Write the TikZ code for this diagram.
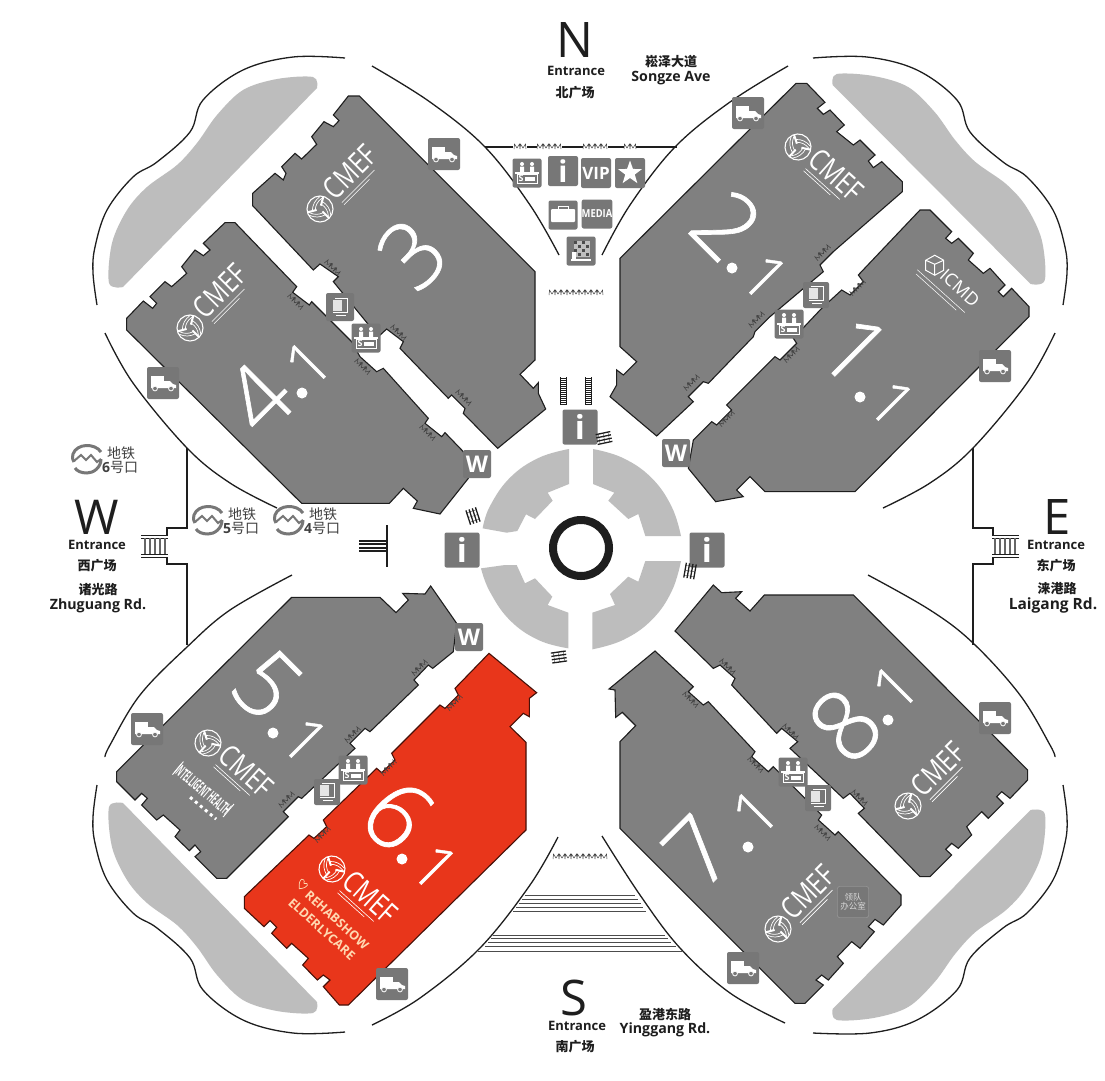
\documentclass[tikz,border=0pt]{standalone}
\usepackage{fontspec}
\usepackage{graphicx}
\usetikzlibrary{shapes.geometric}
\setmainfont{Open Sans}
\newfontfamily\lightf{Open Sans Light}
\newfontfamily\numf[FakeBold=0.7]{Open Sans Light}
\newfontfamily\cjk{Noto Sans CJK SC}
\definecolor{hallgray}{HTML}{808080}
\definecolor{boxgray}{HTML}{777777}
\definecolor{roofgray}{HTML}{BDBDBD}
\definecolor{hallred}{HTML}{E8361B}
\definecolor{inkdark}{HTML}{1E1E1E}
\tikzset{
  hall/.style={draw=inkdark,line width=1.1pt,fill=hallgray,line join=miter},
  redhall/.style={draw=black!70!hallred,line width=1.1pt,fill=hallred},
  road/.style={draw=inkdark,line width=1.3pt},
  wall/.style={draw=inkdark,line width=1.1pt},
  roof/.style={fill=roofgray},
  ibox/.style={fill=boxgray,rounded corners=2pt,inner sep=0pt,text=white,font=\bfseries},
  lbl/.style={inner sep=0pt,text=inkdark,font=\bfseries\fontsize{13}{14}\selectfont,align=center},
  rlbl/.style={inner sep=0pt,text=inkdark,font=\bfseries\fontsize{14.2}{15}\selectfont,align=center},
  clbl/.style={inner sep=0pt,text=inkdark,font=\cjk\bfseries\fontsize{13}{14}\selectfont,align=center},
  bigl/.style={inner sep=0pt,text=inkdark},
  digit/.style={inner sep=0pt,text=white,transform shape},
  logot/.style={inner sep=0pt,text=white,transform shape},
  zg/.style={draw=inkdark!85,line width=.5pt},
}
\newcommand{\ibx}[5]{\node[ibox,minimum size=#4pt] (#1) at (#2,#3) {#5};}
\newcommand{\dgt}[6]{\begin{scope}[shift={(#2,#3)},rotate=#4]\node[digit,font=\numf\fontsize{#5}{#5}\selectfont] (#1) at (0,0) {#6};\end{scope}}
\newcommand{\dott}[2]{\fill[white] (#1,#2) circle (5.5);}
\newcommand{\trk}[3]{\ibx{#1}{#2}{#3}{32}{}
  \begin{scope}[shift={(#2,#3)}]
  \fill[white] (-12,-7) rectangle (1,3);
  \fill[white] (1,-2) -- (7,-2) -- (10,1) -- (13,2) -- (13,5) -- (-12,5) -- (-12,3) -- (1,3) -- cycle;
  \draw[white,fill=boxgray,line width=.8pt] (-8,5.5) circle (2.4);
  \draw[white,fill=boxgray,line width=.8pt] (8,5.5) circle (2.4);
  \end{scope}}
\newcommand{\srv}[3]{\ibx{#1}{#2}{#3}{29}{}
  \begin{scope}[shift={(#2,#3)}]
  \fill[white] (-5,-9) circle (2) (5,-9) circle (2);
  \fill[white] (-7,-6.5) rectangle (-3,-1) (3,-6.5) rectangle (7,-1);
  \draw[white,line width=1.2pt] (-12,0) -- (12,0);
  \draw[white,line width=.7pt] (-10,1) rectangle (10,10);
  \fill[white] (-2,3.5) rectangle (8,8);
  \node[inner sep=0pt,text=white,font=\bfseries\fontsize{9}{9}\selectfont] (#1s) at (-6,5.5) {S};
  \end{scope}}
\newcommand{\bkk}[4]{\ibx{#1}{#2}{#3}{#4}{}
  \begin{scope}[shift={(#2,#3)}]
  \fill[white!90!black] (-7,-7) rectangle (2,4);
  \draw[white,line width=.5pt] (-5,-9) -- (7,-9) -- (7,5) -- (-7,5);
  \draw[white,line width=.5pt] (-4,8) -- (6,8);
  \end{scope}}
\newcommand{\zigz}[4]{\begin{scope}[shift={(#1,#2)},rotate=#3]
  \draw[zg,shift={(-#4*3,2)}] (0,0) foreach \i in {1,...,#4} { -- ++(.5,-5) -- ++(2.5,4) -- ++(2.5,-4) -- ++(.5,5)};
  \end{scope}}
\newcommand{\ballpic}{
  \draw[white,line width=1.1pt] (0,0) circle (13);
  \foreach \a in {90,210,330} {
    \draw[white,line width=2pt] (\a:3.5) -- (\a:13);
    \draw[white,line width=.7pt] (\a:5) to[bend left=25] (\a+115:11);
    \draw[white,line width=.7pt] (\a:8) to[bend left=25] (\a+105:12.5);
  }}
\newcommand{\cmef}[4]{\begin{scope}[shift={(#2,#3)},rotate=#4]
  \ballpic
  \node[logot,font=\fontsize{30}{30}\selectfont] (#1) at (47,-5) {\scalebox{.78}[1]{CMEF}};
  \draw[white,line width=.6pt] (20,11) -- (66,11) (20,14) -- (56,14);
  \end{scope}}
\newcommand{\metro}[6]{\begin{scope}[shift={(#2,#3)}]
  \draw[boxgray,line width=3pt] (14,-7) .. controls (8,-16) and (-10,-16) .. (-14,-5) .. controls (-15,-1) and (-14,2) .. (-13,3);
  \draw[boxgray,line width=3pt] (14,0) .. controls (14,9) and (6,14) .. (0,14) .. controls (-6,14) and (-10,12) .. (-12,9);
  \draw[boxgray,line width=2pt] (-13,2) -- (-6,-4) -- (-1,1) -- (4,-4) -- (10,3) -- (14,0);
  \end{scope}
  \node[inner sep=0pt,text=black!75,font=\cjk\fontsize{14}{15}\selectfont] (#1a) at (#4,#5) {地铁};
  \node[inner sep=0pt,text=black!75,font=\fontsize{14}{15}\selectfont,anchor=west] (#1b) at (#4-19,#5+14) {{\bfseries #6}{\cjk 号口}};}
\newcommand{\ladr}[2]{\begin{scope}[shift={(#1,#2)}]
  \draw[inkdark,line width=.8pt] (-3,-14) -- (-3,14) (3,-14) -- (3,14);
  \foreach \v in {-13,-11,...,13} \draw[inkdark,line width=.7pt] (-3,\v) -- (3,\v);
  \end{scope}}
\newcommand{\strp}[3]{\begin{scope}[shift={(#1,#2)},rotate=#3]
  \foreach \v in {-5,-1.7,1.7,5} \draw[inkdark,line width=1.3pt] (-7.5,\v) -- (7.5,\v);
  \draw[inkdark,line width=.3pt] (-5,-5) -- (-5,5) (0,-5) -- (0,5) (5,-5) -- (5,5);
  \end{scope}}
\newcommand{\roofshape}{\fill[roof] plot[smooth,tension=.55] coordinates {(123,287) (109,283) (112,243) (127,210) (147,187) (177,165) (197,143) (217,115) (243,90) (277,79) (313,77) (317,88)} -- cycle;}
\newcommand{\westgate}{
  \draw[wall] (187,448) -- (187,528) -- (167,528) -- (167,535);
  \draw[wall] (167,558) -- (167,564) -- (187,564) -- (187,645);
  \draw[inkdark,line width=.9pt] (141,535) -- (168,535) (141,538) -- (168,538) (141,554) -- (168,554) (141,557) -- (168,557);
  \foreach \v in {145,150,155,160,165} \draw[black!60,line width=2pt] (\v,538) -- (\v,554);
}
\begin{document}
\begin{tikzpicture}[x=1pt,y=-1pt]
\useasboundingbox (0,0) rectangle (1105,1080);
\fill[white] (0,0) rectangle (1105,1080);
% roofs
\roofshape
\begin{scope}[shift={(1156,-3)},xscale=-1.02]\roofshape\end{scope}
\begin{scope}[shift={(0,1090)},yscale=-1]\roofshape\end{scope}
\begin{scope}[shift={(1156,1097)},xscale=-1.02,yscale=-1]\roofshape\end{scope}
% outer roads
\draw[road] plot[smooth,tension=.6] coordinates {(559,255) (530,205) (485,147) (430,102) (372,66)};
\draw[road] plot[smooth,tension=.6] coordinates {(345,58) (293,57) (243,70) (203,100) (190,132) (157,162) (133,177) (107,210) (95,247) (93,273) (97,305)};
\draw[road] plot[smooth,tension=.6] coordinates {(105,333) (133,383) (187,448) (230,483) (277,508)};
\draw[road] plot[smooth,tension=.6] coordinates {(292,575) (230,610) (187,647) (140,695) (110,745) (105,757)};
\draw[road] plot[smooth,tension=.6] coordinates {(97,785) (93,817) (95,843) (107,880) (133,913) (157,928) (190,958) (203,990) (243,1020) (293,1033) (345,1032)};
\draw[road] plot[smooth,tension=.6] coordinates {(372,1025) (420,998) (480,948) (530,885) (558,837)};
\draw[road] plot[smooth,tension=.6] coordinates {(602,836) (640,895) (680,948) (730,993) (785,1023)};
\draw[road] plot[smooth,tension=.6] coordinates {(813,1033) (870,1033) (917,1020) (957,990) (970,958) (1003,928) (1027,913) (1053,880) (1065,843) (1067,817) (1063,785)};
\draw[road] plot[smooth,tension=.6] coordinates {(868,575) (930,610) (973,643) (1020,695) (1050,745) (1055,757)};
\draw[road] plot[smooth,tension=.6] coordinates {(1055,333) (1027,383) (973,448) (930,483) (883,508)};
\draw[road] plot[smooth,tension=.6] coordinates {(1063,305) (1067,273) (1065,247) (1053,210) (1027,177) (1003,162) (970,132) (957,100) (917,70) (867,57) (813,58)};
\draw[road] plot[smooth,tension=.6] coordinates {(788,66) (730,102) (675,147) (630,205) (602,255)};
% gates
\westgate
\begin{scope}[shift={(1160,0)},xscale=-1]\westgate\end{scope}
% north plaza line
\draw[wall] (485,147) -- (513,147) (527,147) -- (537,147) (562,147) -- (583,147) (608,147) -- (624,147) (636,147) -- (677,147);
\zigz{520}{147}{0}{2}\zigz{549}{147}{0}{4}\zigz{595}{147}{0}{4}\zigz{630}{147}{0}{2}
\zigz{576}{293}{0}{9}\zigz{580}{857}{0}{9}
% south steps
\foreach \yy/\xa/\xb in {895/525/635,899/522/638,903/519/641,907/516/643,911/513/646,935/493/665,938/491/668,942/488/671,946/485/676,951/478/682}
  \draw[black!70,line width=.7pt] (\xa,\yy) -- (\xb,\yy);
% centre quadrants
\begin{scope}[shift={(420,370)},scale=0.33333]
\fill[roof] plot[smooth,tension=.7] coordinates {(447,237) (355,264) (269,324) (209,410) (188,475)} -- (260,488) -- (292,483) -- (318,433) -- (345,447) -- (398,392) -- (383,368) -- (447,342) -- cycle;
\fill[roof] plot[smooth,tension=.7] coordinates {(519,237) (609,264) (695,324) (755,410) (783,498)} -- (676,498) -- (655,432) -- (625,447) -- (565,392) -- (583,368) -- (519,342) -- cycle;
\fill[roof] plot[smooth,tension=.7] coordinates {(783,573) (755,664) (695,750) (609,810) (517,838)} -- (517,728) -- (585,705) -- (570,672) -- (625,620) -- (655,635) -- (676,573) -- cycle;
\fill[roof] plot[smooth,tension=.7] coordinates {(445,835) (355,810) (269,750) (209,664) (183,595)} -- (255,585) -- (290,585) -- (315,640) -- (345,625) -- (397,680) -- (383,705) -- (445,728) -- cycle;
\end{scope}
\draw[inkdark,line width=8pt] (581,548) circle (28);
% halls
\begin{scope}[shift={(120,85)},scale=0.33333]
\draw[hall] (685,33) -- (718,33) -- (1245,560) -- (1245,825) -- (1200,868) -- (1240,910) -- (1255,893) -- (1255,925) -- (1277,972) -- (1133,1090) -- (1030,985) -- (1035,970) -- (995,930) -- (985,940) -- (840,790) -- (850,770) -- (800,732) -- (775,755) -- (640,590) -- (655,575) -- (600,537) -- (580,555) -- (398,362) -- (398,325) -- (465,265) -- (490,285) -- (498,265) -- (485,245) -- (525,205) -- (545,222) -- (590,178) -- (575,155) -- (612,110) -- (640,125) -- (657,107) -- (640,90) -- cycle;
\draw[hall] (315,413) -- (345,413) -- (530,605) -- (518,622) -- (568,660) -- (575,650) -- (695,770) -- (720,815) -- (770,860) -- (790,850) -- (925,1000) -- (915,1015) -- (965,1055) -- (975,1043) -- (1030,1100) -- (1045,1180) -- (960,1287) -- (880,1270) -- (892,1248) -- (850,1210) -- (808,1255) -- (545,1255) -- (20,735) -- (20,700) -- (70,648) -- (98,670) -- (110,655) -- (90,635) -- (135,590) -- (155,605) -- (200,565) -- (185,545) -- (225,495) -- (250,512) -- (270,495) -- (250,475) -- cycle;
\end{scope}
\begin{scope}[shift={(605,75)},scale=0.33333]
\draw[hall] (573,25) -- (605,25) -- (660,82) -- (637,100) -- (655,118) -- (675,105) -- (718,150) -- (695,170) -- (745,210) -- (765,195) -- (810,240) -- (790,258) -- (805,278) -- (830,260) -- (892,320) -- (892,350) -- (685,530) -- (645,570) -- (655,590) -- (495,725) -- (450,770) -- (445,785) -- (310,925) -- (295,920) -- (250,965) -- (265,980) -- (155,1083) -- (15,965) -- (35,930) -- (35,885) -- (55,900) -- (95,860) -- (45,815) -- (45,550) -- cycle;
\draw[hall] (945,405) -- (975,405) -- (1040,470) -- (1022,490) -- (1040,505) -- (1060,490) -- (1105,535) -- (1090,555) -- (1135,595) -- (1155,580) -- (1200,630) -- (1180,650) -- (1195,665) -- (1220,640) -- (1272,695) -- (1272,725) -- (750,1250) -- (480,1250) -- (435,1205) -- (395,1245) -- (415,1265) -- (332,1280) -- (250,1180) -- (265,1095) -- (320,1040) -- (335,1050) -- (380,1005) -- (365,990) -- (510,845) -- (525,855) -- (575,805) -- (565,790) -- (650,700) -- (710,645) -- (735,660) -- (775,620) -- (760,600) -- cycle;
\end{scope}
\begin{scope}[shift={(605,580)},scale=0.33333]
\draw[hall] (325,15) -- (350,38) -- (410,35) -- (392,55) -- (435,93) -- (478,45) -- (745,45) -- (1268,570) -- (1268,600) -- (1215,655) -- (1190,635) -- (1175,650) -- (1195,670) -- (1150,715) -- (1130,695) -- (1085,740) -- (1100,765) -- (1060,805) -- (1040,790) -- (1022,808) -- (1040,825) -- (975,890) -- (945,890) -- (760,700) -- (778,685) -- (735,640) -- (715,655) -- (555,505) -- (578,485) -- (530,445) -- (515,460) -- (380,315) -- (390,295) -- (345,255) -- (325,265) -- (210,153) -- cycle;
\draw[hall] (150,213) -- (265,320) -- (250,335) -- (295,375) -- (310,365) -- (450,515) -- (440,530) -- (490,575) -- (505,560) -- (650,705) -- (640,720) -- (690,765) -- (700,755) -- (888,945) -- (888,975) -- (835,1035) -- (810,1018) -- (790,1040) -- (808,1055) -- (765,1105) -- (740,1085) -- (697,1130) -- (715,1150) -- (670,1200) -- (650,1185) -- (633,1200) -- (655,1215) -- (600,1270) -- (570,1270) -- (45,745) -- (45,485) -- (92,437) -- (52,397) -- (32,412) -- (30,330) -- (12,327) -- cycle;
\end{scope}
\begin{scope}[shift={(110,580)},scale=0.33333]
\draw[hall] (545,52) -- (810,52) -- (858,98) -- (895,60) -- (878,40) -- (945,42) -- (962,18) -- (1040,130) -- (1030,215) -- (968,265) -- (955,255) -- (912,300) -- (925,315) -- (780,455) -- (765,445) -- (720,490) -- (735,505) -- (575,655) -- (565,650) -- (520,695) -- (535,710) -- (350,895) -- (320,895) -- (255,830) -- (272,815) -- (255,795) -- (238,812) -- (195,770) -- (210,750) -- (160,705) -- (140,720) -- (95,675) -- (112,655) -- (95,640) -- (75,660) -- (20,605) -- (20,575) -- cycle;
\draw[redhall] (1137,220) -- (1280,338) -- (1258,355) -- (1258,410) -- (1240,400) -- (1200,440) -- (1248,487) -- (1248,750) -- (715,1275) -- (688,1275) -- (640,1220) -- (660,1200) -- (640,1185) -- (622,1200) -- (578,1155) -- (595,1135) -- (545,1090) -- (530,1105) -- (485,1060) -- (500,1042) -- (480,1022) -- (462,1040) -- (403,985) -- (403,950) -- (597,765) -- (612,775) -- (650,740) -- (640,720) -- (800,565) -- (815,578) -- (855,540) -- (845,520) -- (990,375) -- (1005,385) -- (1045,345) -- (1035,325) -- cycle;
\end{scope}
% door marks
\foreach \xx/\yy in {332/268,398/333,463/398,295/302,362/367,427/433,727/667,790/732,859/798,690/700,755/765,822/833} {\zigz{\xx}{\yy}{-45}{3}}
\foreach \xx/\yy in {823/253,757/320,692/383,858/288,792/355,727/419,420/668,353/735,287/800,455/703,389/768,323/835} {\zigz{\xx}{\yy}{45}{3}}
% hall numbers
\dgt{n3}{412}{254}{45}{92}{3}
\dgt{n4}{258}{398}{45}{92}{4}\dott{302}{393}\dgt{n41}{308}{363}{45}{62}{1}
\dgt{n2}{727}{225}{-45}{92}{2}\dott{732}{268}\dgt{n21}{765}{277}{-45}{62}{1}
\dgt{n1}{855}{350}{-45}{92}{1}\dott{860}{397}\dgt{n11}{892}{403}{-45}{62}{1}
\dgt{n8}{845}{725}{45}{97}{8}\dott{888}{720}\dgt{n81}{895}{687}{45}{62}{1}
\dgt{n7}{698}{851}{45}{92}{7}\dott{748}{847}\dgt{n71}{755}{812}{45}{62}{1}
\dgt{n5}{267}{685}{-45}{92}{5}\dott{273}{733}\dgt{n51}{305}{740}{-45}{62}{1}
\dgt{n6}{398}{815}{-45}{95}{6}\dott{402}{859}\dgt{n61}{435}{867}{-45}{62}{1}
% logos
\cmef{lg3}{320}{209}{45}
\cmef{lg4}{190}{328}{45}
\cmef{lg2}{798}{147}{-42}
\cmef{lg8}{908}{806}{45}
\cmef{lg7}{778}{929}{45}
\cmef{lg5}{208}{743}{-42}
\cmef{lg6}{332}{869}{-42}
% ICMD
\begin{scope}[shift={(960,288)},rotate=-42]
\node[logot,font=\fontsize{18}{18}\selectfont] (icmd) at (0,0) {ICMD};
\draw[white,line width=.5pt] (-44,15) -- (20,15) (-42,19) -- (12,19);
\draw[white,line width=1pt,shift={(-34,0)},rotate=42] (0,-10) -- (9,-5) -- (9,5) -- (0,10) -- (-9,5) -- (-9,-5) -- cycle (0,-1) -- (9,-5) (0,-1) -- (-9,-5) (0,-1) -- (0,10);
\end{scope}
% intelligent health
\begin{scope}[shift={(201,792)},rotate=-40]
\node[logot,font=\bfseries\fontsize{16}{16}\selectfont] (ihealth) at (0,-3) {\scalebox{.4}[1]{INTELLIGENT HEALTH}};
\draw[white,line width=.9pt] (-33,-12) -- (-33,5) (33,-12) -- (33,5);
\draw[white,line width=3pt,dash pattern=on 3pt off 3.5pt] (-5,11) -- (29,11);
\end{scope}
% rehab / elderly
\begin{scope}[shift={(337,920)},rotate=-42]
\node[logot,font=\bfseries\fontsize{12.5}{13}\selectfont,text=orange!30!white] (rehab) at (0,0) {REHABSHOW};
\node[logot,font=\bfseries\fontsize{12.5}{13}\selectfont,text=orange!30!white] (elderly) at (-5,17) {ELDERLYCARE};
\draw[orange!30!white,line width=.7pt] (-49,-5) .. controls (-52,-11) and (-58,-6) .. (-49,2) .. controls (-42,-5) and (-46,-10) .. (-49,-5);
\end{scope}
% truck boxes
\trk{tk3}{444}{154}\trk{tk4}{163}{383}\trk{tk2}{748}{113}\trk{tk1}{995}{366}
\trk{tk8}{995}{718}\trk{tk7}{743}{968}\trk{tk6}{392}{984}\trk{tk5}{147}{729}
% centre info and W
\ibx{ic}{580}{427}{35}{\fontsize{33}{33}\selectfont i}
\ibx{il}{462}{550}{35}{\fontsize{33}{33}\selectfont i}
\ibx{ir}{707}{550}{35}{\fontsize{33}{33}\selectfont i}
\ibx{wa}{477}{464}{28}{\fontsize{23}{23}\selectfont W}
\ibx{wb}{676}{453}{28}{\fontsize{23}{23}\selectfont W}
\ibx{wc}{469}{637}{28}{\fontsize{23}{23}\selectfont W}
\strp{473}{516}{-72}\strp{604}{438}{12}\strp{690}{571}{-100}\strp{559}{657}{8}
\ladr{563}{391}\ladr{588}{391}
% west stair in corridor
\draw[inkdark,line width=1.1pt] (387,525) -- (387,567);
\foreach \v in {541,544,548,551} \draw[inkdark,line width=1.1pt] (359,\v) -- (387,\v);
% north icons
\srv{s0}{527}{173}
\ibx{in}{563}{171}{30}{\fontsize{30}{30}\selectfont i}
\ibx{vip}{596}{173}{30}{\fontsize{17}{17}\selectfont VIP}
\ibx{star}{630}{173}{30}{}
\node[star,star points=5,star point ratio=2.5,fill=white,minimum size=25pt,inner sep=0pt] (starg) at (star) {};
\ibx{brf}{563}{215}{29}{}
\fill[white,rounded corners=1pt] (551,209) rectangle (575,222);
\draw[white,line width=1pt] (558,209) -- (558,206) -- (568,206) -- (568,209);
\ibx{med}{597}{214}{29}{\scalebox{.85}[1]{\fontsize{11}{11}\selectfont MEDIA}}
\ibx{qr}{581}{251}{29}{}
\fill[black!25] (574,241) rectangle (590,257);
\foreach \xx/\yy in {574/241,578/245,582/241,586/245,574/249,582/249,586/253,578/253} \fill[black!70] (\xx,\yy) rectangle +(2.5,2.5);
\fill[white] (571,259) rectangle (591,260.5);
\fill[white] (572,252) rectangle (576,259);
% corridor icons
\bkk{bk4}{340}{307}{28}\srv{s4}{366}{338}
\bkk{bk2}{816}{295}{26}\srv{s2}{789}{324}
\bkk{bk5}{327}{792}{26}\srv{s5}{353}{770}
\bkk{bk8}{818}{798}{26}\srv{s8}{793}{772}
% team office
\node[draw=black!35,fill=boxgray,rounded corners=2pt,minimum size=31pt,inner sep=0pt,align=center,text=white!85!black,font=\cjk\fontsize{8.5}{9.5}\selectfont] (team) at (853,902) {领队\\办公室};
% labels
\node[bigl,font=\fontsize{49}{49}\selectfont] (nn) at (575,40) {N};
\node[lbl] (ne) at (576,71) {Entrance};
\node[clbl] (nc) at (575,93) {北广场};
\node[clbl] (nr) at (671,62) {崧泽大道};
\node[rlbl] (ns) at (671,78) {Songze Ave};
\node[bigl,font=\fontsize{48}{48}\selectfont] (ww) at (97,517) {W};
\node[lbl] (we) at (97,545) {Entrance};
\node[clbl] (wc1) at (97,566) {西广场};
\node[clbl] (wr) at (98,590) {诸光路};
\node[rlbl] (wz) at (98,606) {Zhuguang Rd.};
\node[bigl,font=\fontsize{49}{49}\selectfont] (ee) at (1057,517) {E};
\node[lbl] (ee2) at (1056,545) {Entrance};
\node[clbl] (ec) at (1056,566) {东广场};
\node[clbl] (er) at (1057,589) {涞港路};
\node[rlbl,font=\bfseries\fontsize{15.5}{16}\selectfont] (el) at (1053,605) {Laigang Rd.};
\node[bigl,font=\fontsize{49}{49}\selectfont] (ss) at (574,998) {S};
\node[lbl] (se) at (577,1026) {Entrance};
\node[clbl] (sc) at (575,1047) {南广场};
\node[clbl] (sr) at (665,1014) {盈港东路};
\node[rlbl] (sy) at (665,1030) {Yinggang Rd.};
\metro{m6}{87}{459}{121}{453}{6}
\metro{m5}{208}{520}{242}{514}{5}
\metro{m4}{289}{520}{323}{514}{4}
\end{tikzpicture}
\end{document}
